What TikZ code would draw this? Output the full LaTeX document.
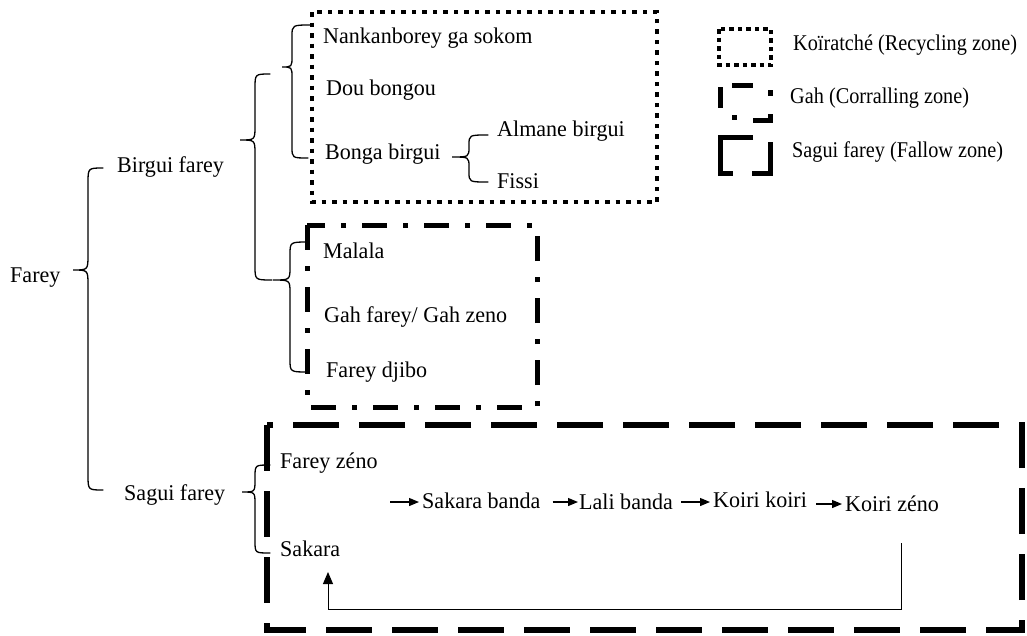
\documentclass[tikz,border=0pt]{standalone}
\usepackage{fontspec}
\setmainfont{Liberation Serif}[FakeStretch=0.98]
\newfontfamily\legfont{Liberation Serif}[FakeStretch=0.9]
\usetikzlibrary{arrows.meta}
% brace: top end (#1,#2), vertical x #3, tip (#4,#5), bottom end (#6,#7), radius #8
\newcommand\cbrace[8]{%
  \draw[brc] (#1,#2) .. controls (#3,#2) .. (#3,#2+#8) -- (#3,#5-#8)
    .. controls (#3,#5) .. (#4,#5) .. controls (#3,#5) .. (#3,#5+#8)
    -- (#3,#7-#8) .. controls (#3,#7) .. (#6,#7);}
\begin{document}
\begin{tikzpicture}[x=1pt,y=-1pt,
  lbl/.style={anchor=base west, inner sep=0pt, font=\fontsize{22.5}{26}\selectfont},
  leglbl/.style={anchor=base west, inner sep=0pt, font=\legfont\fontsize{22.5}{26}\selectfont},
  brc/.style={line width=1.3pt, line cap=round},
  dotbox/.style={line width=4.5pt, dash pattern=on 4.5pt off 6pt},
  dashdotbox/.style={line width=5pt, dash pattern=on 25pt off 16pt on 5pt off 16pt},
  dashbox/.style={line width=5.5pt, dash pattern=on 46pt off 20pt},
  legseg/.style={line width=5pt},
  arr/.style={line width=1.2pt, -{Triangle[length=10pt,width=8pt]}},
  retarr/.style={line width=1pt, -{Triangle[length=12pt,width=10pt]}}]
\useasboundingbox (0,0) rectangle (1027,635);

% zone boxes
\draw[dotbox] (312,12) rectangle (657,202);
\draw[dashdotbox] (307,225) rectangle (537,407);
\draw[dashbox] (267,425) rectangle (1022,630);

% legend
\draw[line width=4.5pt, dash pattern=on 4.5pt off 4pt] (719,29) rectangle (771,65);
\draw[legseg] (720,87) -- (720,108);
\draw[legseg] (732,85) -- (753,85);
\draw[legseg] (770,90) -- (770,96);
\draw[legseg] (732,117) -- (737,117);
\draw[legseg] (753,120) -- (770,120) -- (770,114);
\draw[legseg] (753,137) -- (720,137) -- (720,173) -- (733,173);
\draw[legseg] (770,142) -- (770,173) -- (752,173);
\node[leglbl] (l1) at (793,50) {Koïratché (Recycling zone)};
\node[leglbl] (l2) at (790,103) {Gah (Corralling zone)};
\node[leglbl] (l3) at (792,157) {Sagui farey (Fallow zone)};

% texts
\node[lbl] (fa) at (10,282) {Farey};
\node[lbl] (bf) at (117,172) {Birgui farey};
\node[lbl] (sf) at (124,500) {Sagui farey};
\node[lbl] (nk) at (323,43) {Nankanborey ga sokom};
\node[lbl] (db) at (326,95) {Dou bongou};
\node[lbl] (bb) at (325,159) {Bonga birgui};
\node[lbl] (ab) at (497,136) {Almane birgui};
\node[lbl] (fi) at (497,188) {Fissi};
\node[lbl] (ma) at (323,258) {Malala};
\node[lbl] (gf) at (324,322) {Gah farey/ Gah zeno};
\node[lbl] (fd) at (326,377) {Farey djibo};
\node[lbl] (fz) at (280,468) {Farey zéno};
\node[lbl] (sk) at (280,556) {Sakara};
\node[lbl] (sb) at (422,508) {Sakara banda};
\node[lbl] (lb) at (579,509) {Lali banda};
\node[lbl] (kk) at (713,507) {Koiri koiri};
\node[lbl] (kz) at (845,511) {Koiri zéno};

% braces
\cbrace{103}{168}{88}{73}{270}{103}{490}{15}
\cbrace{270}{74}{255}{240}{140}{272}{280}{14}
\cbrace{312}{25}{292}{282}{67}{308}{158}{11}
\cbrace{308}{242}{290}{273}{280}{308}{372}{13}
\cbrace{270}{465}{255}{242}{492}{270}{553}{12}
\cbrace{488}{135}{469}{452}{157}{488}{182}{10}

% chain arrows
\coordinate (a0) at (390,502);
\draw[arr] (a0) -- ([xshift=-3pt]sb.west |- a0);
\draw[arr] ([xshift=12pt]sb.east |- a0) -- ([xshift=-1pt]lb.west |- a0);
\draw[arr] ([xshift=8pt]lb.east |- a0) -- ([xshift=-3pt]kk.west |- a0);
\draw[arr] ([xshift=9pt]kk.east |- 0,504) -- ([xshift=-3pt]kz.west |- 0,504);

% return loop
\coordinate (r1) at (901,543);
\coordinate (r2) at (328,572);
\draw[retarr] (r1) -- (901,609) -| (r2);
\end{tikzpicture}
\end{document}
